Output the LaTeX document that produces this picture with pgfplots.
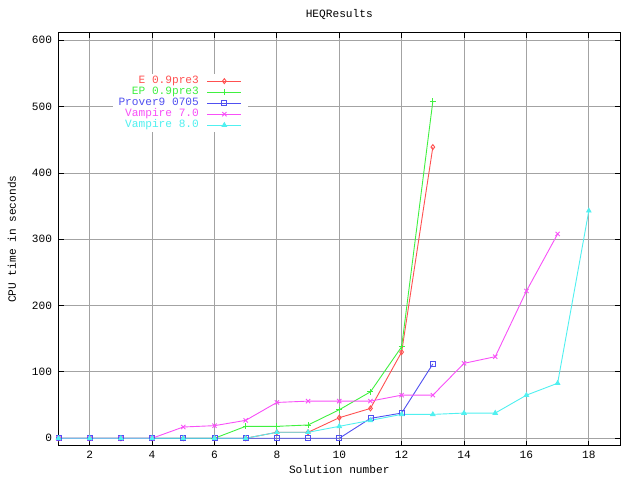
\documentclass[border=0pt]{standalone}
\usepackage{pgfplots}
\pgfplotsset{compat=1.18}
\usepackage{fontspec}
\setmainfont{Liberation Mono}
\definecolor{cE}{HTML}{FF5050}
\definecolor{cEP}{HTML}{40F040}
\definecolor{cP}{HTML}{5050F0}
\definecolor{cV7}{HTML}{F850F8}
\definecolor{cV8}{HTML}{50F0F0}
\begin{document}
\begin{tikzpicture}[x=1bp,y=1bp]
\path[use as bounding box] (0,0) rectangle (640,480);
\begin{axis}[
  at={(58.5bp,34.3bp)}, anchor=south west,
  scale only axis, width=561.5bp, height=413bp,
  xmin=1, xmax=19, ymin=-11.2, ymax=611.5,
  xtick={2,4,...,18}, ytick={0,100,...,600},
  grid=major, grid style={color=black!36, line width=0.9bp},
  tick style={black, line width=0.9bp}, major tick length=5bp,
  tick align=inside,
  axis line style={line width=1bp},
  tick label style={font=\fontsize{11.2}{13}\selectfont},
  /pgf/number format/assume math mode=true,
  yticklabel style={xshift=-3bp},
  xticklabel style={yshift=-2bp},
  title={HEQResults},
  every axis title/.style={at={(axis description cs:0.5,1.0429)}, anchor=center, font=\fontsize{11.2}{13}\selectfont},
  xlabel={Solution number},
  every axis x label/.style={at={(axis description cs:0.5,-0.0588)}, anchor=center, font=\fontsize{11.2}{13}\selectfont},
  ylabel={CPU time in seconds},
  every axis y label/.style={at={(axis description cs:-0.0828,0.5)}, rotate=90, anchor=center, font=\fontsize{11.2}{13}\selectfont},
  legend style={at={(axis description cs:0.3357,0.8988)}, anchor=north east, draw=white, fill=white,
    inner xsep=5bp, inner ysep=1bp,
    font=\fontsize{11.2}{13}\selectfont, row sep=0bp, column sep=8bp,
    nodes={inner sep=0bp, text height=8bp, text depth=3bp}},
  legend cell align=right,
  legend plot pos=right,
  legend image code/.code={\draw[mark repeat=2,mark phase=2] plot coordinates {(0bp,0bp) (17bp,0bp) (34bp,0bp)};},
  every axis plot/.append style={line width=0.9bp, mark options={solid}},
]
\addplot[color=cE, mark=diamond, mark size=2.5bp] coordinates {
(1,0)(2,0)(3,0)(4,0)(5,0)(6,0)(7,0)(8,9)(9,9)(10,31)(11,45)(12,130)(13,439)};
\addlegendentry{\textcolor{cE}{E 0.9pre3}}
\addplot[color=cEP, mark=+, mark size=3bp] coordinates {
(1,0)(2,0)(3,0)(4,0)(5,0)(6,0)(7,18)(8,18)(9,20)(10,43)(11,70)(12,138)(13,508)};
\addlegendentry{\textcolor{cEP}{EP 0.9pre3}}
\addplot[color=cP, mark=square, mark size=2.5bp] coordinates {
(1,0)(2,0)(3,0)(4,0)(5,0)(6,0)(7,0)(8,0)(9,0)(10,0)(11,30)(12,38)(13,112)};
\addlegendentry{\textcolor{cP}{Prover9 0705}}
\addplot[color=cV7, mark=x, mark size=3bp] coordinates {
(1,0)(2,0)(3,0)(4,0)(5,17)(6,19)(7,27)(8,54)(9,56)(10,56)(11,56)(12,65)(13,65)(14,113)(15,123)(16,222)(17,308)};
\addlegendentry{\textcolor{cV7}{Vampire 7.0}}
\addplot[color=cV8, mark=triangle*, mark size=2.5bp] coordinates {
(1,0)(2,0)(3,0)(4,0)(5,0)(6,0)(7,0)(8,9)(9,9)(10,18)(11,27)(12,36)(13,36)(14,38)(15,38)(16,65)(17,83)(18,343)};
\addlegendentry{\textcolor{cV8}{Vampire 8.0}}
\end{axis}
\end{tikzpicture}
\end{document}
